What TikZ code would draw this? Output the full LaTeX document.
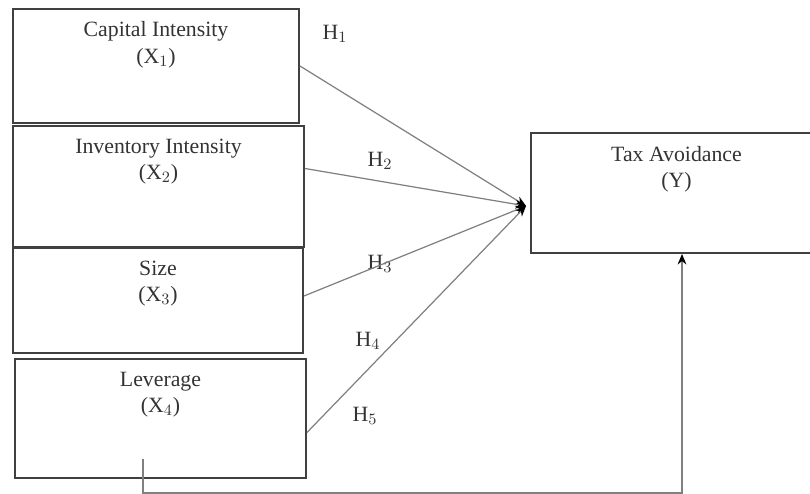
\documentclass[tikz,border=0pt]{standalone}
\usepackage{fontspec}
\setmainfont{Liberation Serif}
\usetikzlibrary{positioning, arrows.meta}

\begin{document}
\begin{tikzpicture}[
    box/.style={rectangle, draw=black!75, line width=1.1pt, minimum width=5.82cm},
    lbl/.style={anchor=north, align=center, inner sep=0pt, yshift=-0.27cm, text=black!80, font=\fontsize{12.4}{15}\selectfont},
    hyp/.style={text=black!80, font=\fontsize{12.4}{15}\selectfont},
    arrow/.style={-{Stealth[length=6pt, width=5pt, black]}, draw=black!50, line width=0.7pt}
]
    \useasboundingbox (0,0) rectangle (16.2,-9.88);
    \node[box, minimum width=5.72cm, minimum height=2.28cm, label={[lbl]north:Capital Intensity\\(X$_1$)}] (b1) at (3.12,-1.32) {};
    \node[box, minimum height=2.42cm, label={[lbl]north:Inventory Intensity\\(X$_2$)}] (b2) at (3.17,-3.73) {};
    \node[box, minimum width=5.80cm, minimum height=2.10cm, label={[lbl]north:Size\\(X$_3$)}] (b3) at (3.16,-6.01) {};
    \node[box, minimum height=2.38cm, label={[lbl]north:Leverage\\(X$_4$)}] (b4) at (3.21,-8.37) {};
    \node[box, minimum height=2.40cm, label={[lbl]north:Tax Avoidance\\(Y)}] (y) at (13.53,-3.86) {};
    \coordinate (hub) at (10.52,-4.12);
    \node[hyp] (h1) at (6.70,-0.68) {H$_1$};
    \node[hyp] (h2) at (7.60,-3.22) {H$_2$};
    \node[hyp] (h3) at (7.60,-5.28) {H$_3$};
    \node[hyp] (h4) at (7.36,-6.82) {H$_4$};
    \node[hyp] (h5) at (7.30,-8.32) {H$_5$};
    \draw[arrow] (b1.east) -- (hub);
    \draw[arrow] ([yshift=0.36cm]b2.east) -- (hub);
    \draw[arrow] ([yshift=0.09cm]b3.east) -- (hub);
    \draw[arrow] ([yshift=-0.28cm]b4.east) -- (hub);
    \draw[arrow] ([xshift=-0.35cm, yshift=0.4cm]b4.south) -- ++(0,-0.68) -| ([xshift=0.11cm]y.south);
\end{tikzpicture}
\end{document}
